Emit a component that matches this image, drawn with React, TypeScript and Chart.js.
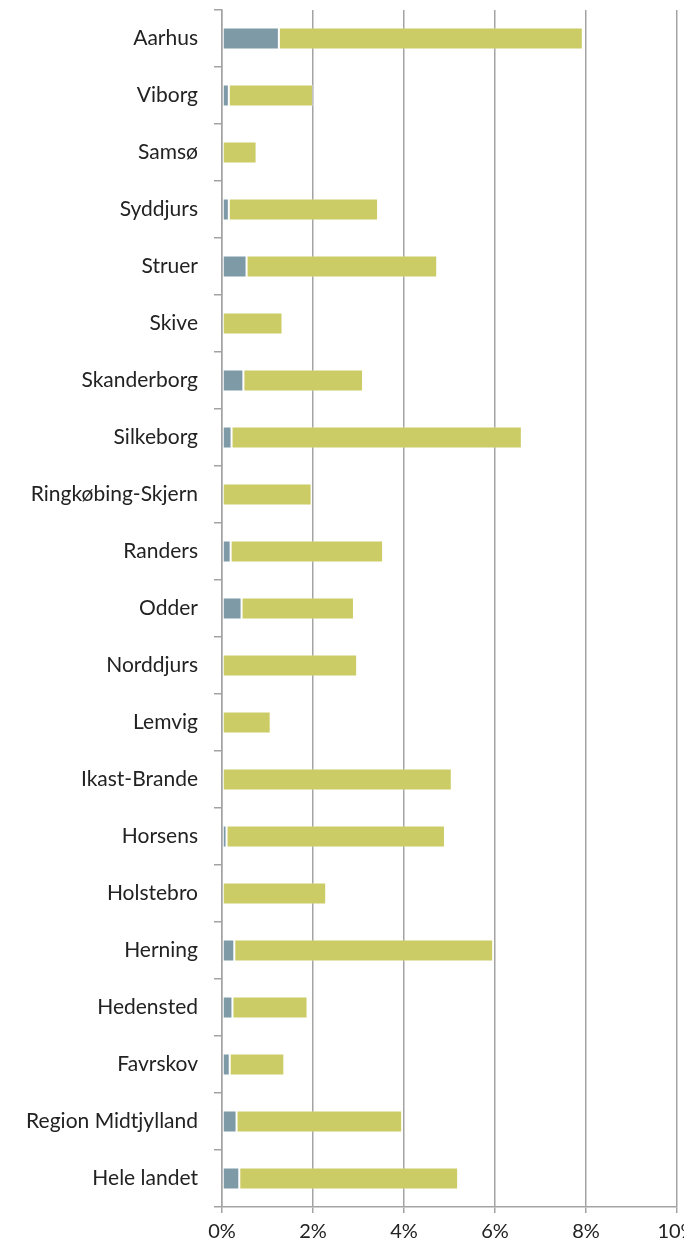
import React, { useEffect, useRef } from "react";
import { Chart, registerables } from "chart.js";

Chart.register(...registerables);

const categories = [
  "Aarhus", "Viborg", "Samsø", "Syddjurs", "Struer", "Skive", "Skanderborg",
  "Silkeborg", "Ringkøbing-Skjern", "Randers", "Odder", "Norddjurs", "Lemvig",
  "Ikast-Brande", "Horsens", "Holstebro", "Herning", "Hedensted", "Favrskov",
  "Region Midtjylland", "Hele landet",
];

const blueValues = [
  1.25, 0.15, 0, 0.15, 0.54, 0, 0.47, 0.21, 0, 0.19, 0.43, 0, 0, 0, 0.1, 0,
  0.27, 0.23, 0.17, 0.32, 0.38,
];

const greenValues = [
  6.68, 1.85, 0.76, 3.28, 4.19, 1.33, 2.63, 6.38, 1.97, 3.35, 2.47, 2.97, 1.07,
  5.05, 4.8, 2.29, 5.69, 1.65, 1.2, 3.64, 4.81,
];

const xTicks = [0, 2, 4, 6, 8, 10];

const FONT = "Lato, 'Open Sans', sans-serif";
const GRID = "#a3a3a3";

export default function App() {
  const ref = useRef<HTMLCanvasElement | null>(null);

  useEffect(() => {
    if (!ref.current) return;
    const chart = new Chart(ref.current, {
      type: "bar",
      data: {
        labels: categories,
        datasets: [
          {
            label: "A",
            data: blueValues,
            backgroundColor: "#7f9aa7",
            borderColor: "rgba(255,255,255,0.35)",
            borderWidth: 1,
            borderSkipped: false,
            categoryPercentage: 1,
            barPercentage: 0.39,
          },
          {
            label: "B",
            data: greenValues,
            backgroundColor: "#cccc66",
            borderColor: "rgba(255,255,255,0.35)",
            borderWidth: 1,
            borderSkipped: false,
            categoryPercentage: 1,
            barPercentage: 0.39,
          },
        ],
      },
      options: {
        indexAxis: "y",
        animation: false,
        responsive: false,
        maintainAspectRatio: false,
        layout: { padding: { top: 10, right: 7, left: 0, bottom: 0 } },
        plugins: {
          legend: { display: false },
          tooltip: { enabled: false },
        },
        scales: {
          x: {
            stacked: true,
            min: 0,
            max: 10,
            afterBuildTicks: (scale: any) => {
              scale.ticks = xTicks.map((v) => ({ value: v }));
            },
            afterFit: (scale: any) => {
              scale.height = 41;
              scale.paddingLeft = 0;
              scale.paddingRight = 0;
            },
            ticks: {
              callback: (v: any) => v + "%",
              font: { family: FONT, size: 20 },
              color: "#222",
              padding: 7,
              maxRotation: 0,
              autoSkip: false,
            },
            grid: {
              color: GRID,
              lineWidth: 1.5,
              tickLength: 6,
              drawTicks: true,
            },
            border: { display: true, color: GRID, width: 1.5 },
          },
          y: {
            stacked: true,
            afterFit: (scale: any) => {
              scale.width = 222;
              scale.paddingTop = 0;
              scale.paddingBottom = 0;
            },
            ticks: {
              font: { family: FONT, size: 21 },
              color: "#222",
              padding: 16,
              autoSkip: false,
            },
            grid: {
              offset: true,
              drawOnChartArea: false,
              drawTicks: true,
              tickLength: 8,
              color: GRID,
              lineWidth: 1.5,
            },
            border: { display: true, color: GRID, width: 1.5 },
          },
        },
      },
    });
    return () => chart.destroy();
  }, []);

  return (
    <div style={{ position: "fixed", left: 0, top: 0, width: 684, height: 1248, background: "#fff" }}>
      <canvas ref={ref} width={684} height={1248} style={{ display: "block", width: 684, height: 1248 }} />
    </div>
  );
}
